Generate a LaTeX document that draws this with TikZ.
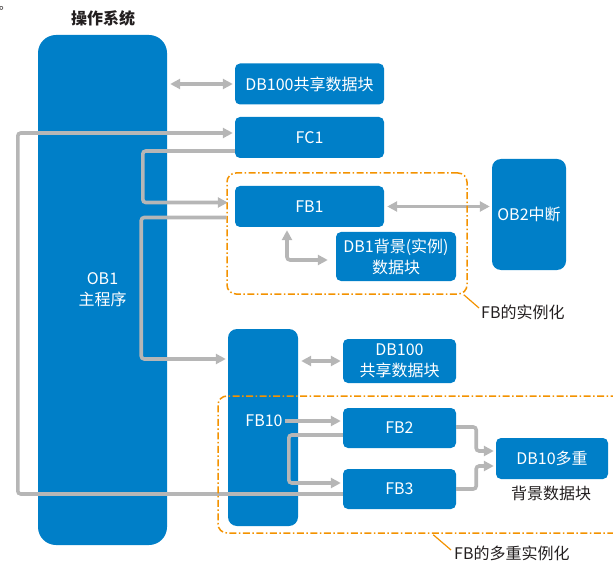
\documentclass[tikz,border=0pt]{standalone}
\usepackage{fontspec}
\setmainfont{Noto Sans CJK SC}
\usetikzlibrary{arrows.meta,calc,positioning}
\definecolor{plcblue}{RGB}{0,127,200}
\definecolor{linkgray}{RGB}{182,182,182}
\definecolor{groupor}{RGB}{243,146,0}
\definecolor{darktext}{RGB}{35,31,32}
\tikzset{
    block/.style={fill=plcblue, text=white, rounded corners=5pt, inner sep=0pt, align=center},
    call/.style={draw=linkgray, line width=3.6pt, rounded corners=3pt, -{Triangle[length=10pt,width=10pt]}, shorten >=2pt},
    share/.style={draw=linkgray, line width=3.6pt, rounded corners=3pt, {Triangle[length=10pt,width=10pt]}-{Triangle[length=10pt,width=10pt]}, shorten >=2pt, shorten <=3pt},
    group/.style={draw=groupor, line width=1.5pt, rounded corners=9pt, dash pattern=on 7pt off 2.5pt on 1.5pt off 2.5pt, inner sep=0pt},
    lead/.style={draw=groupor, line width=1.2pt},
    note/.style={text=darktext, inner sep=0pt}
}
\begin{document}
\begin{tikzpicture}[x=1pt, y=-1pt, font=\fontsize{16}{21}\selectfont]
    \clip (0, 0) rectangle (613, 564);
    \node[note, font=\fontsize{12}{12}\selectfont] (dot) at (5, 8) {。};
    \node[note, font=\fontsize{16}{16}\selectfont\bfseries] (title) at (103, 18) {操作系统};
    \node[block, rounded corners=18pt, minimum width=129pt, minimum height=510pt] (ob1) at (102.5, 290) {OB1\\主程序};
    \node[block, minimum width=149pt, minimum height=41pt] (db100a) at (309.5, 84) {DB100共享数据块};
    \node[block, minimum width=149pt, minimum height=41pt] (fc1) at (309.5, 137.5) {FC1};
    \node[block, minimum width=149pt, minimum height=41pt] (fb1) at (309.5, 206.5) {FB1};
    \node[block, minimum width=120pt, minimum height=49pt] (db1) at (396, 256.5) {DB1背景(实例)\\数据块};
    \node[block, rounded corners=9pt, minimum width=74pt, minimum height=111pt] (ob2) at (529, 214.5) {OB2中断};
    \node[block, rounded corners=9pt, minimum width=70pt, minimum height=197pt] (fb10) at (263, 427.5) {};
    \node[text=white, inner sep=2pt] (fbtext) at (264, 421) {FB10};
    \node[block, minimum width=113pt, minimum height=44pt] (db100b) at (399.5, 361) {DB100\\共享数据块};
    \node[block, minimum width=113pt, minimum height=40pt] (fb2) at (399.5, 428) {FB2};
    \node[block, minimum width=113pt, minimum height=40pt] (fb3) at (399.5, 489) {FB3};
    \node[block, minimum width=112pt, minimum height=41pt] (db10) at (552, 458.5) {DB10多重};
    \node[note] (bglabel) at (551, 493) {背景数据块};

    \draw[call] ([yshift=-5pt]fb3.west) -- ++(-325, 0) |- ([yshift=4.5pt]fc1.west);
    \draw[call, shorten >=7pt] ([yshift=-13.5pt]fc1.west) -- ++(-92, 0) |- ([yshift=4pt]fb1.west);
    \draw[share] (ob1.east |- db100a) -- (db100a.west);
    \draw[share] (fb1.east) -- (fb1.east -| ob2.west);
    \draw[share, shorten >=8pt] ($(fb1.south)+(-22.5, 0)$) |- ($(db1.west)+(0, 3.5)$);
    \draw[share] (fb10.east |- db100b) -- (db100b.west);
    \draw[call] (fbtext.east) -- (fbtext.east -| fb2.west);
    \draw[call] ($(fb2.west)+(0, 7)$) -- ++(-54, 0) |- ($(fb3.west)+(0, -6)$);
    \draw[call] ($(fb2.east)+(0, -1)$) -- ++(20, 0) |- ($(db10.west)+(0, -7.5)$);
    \draw[call] (fb3.east) -- ++(20, 0) |- ($(db10.west)+(0, 7.5)$);

    \node[group, minimum width=240pt, minimum height=121pt] (inst) at (347, 233.5) {};
    \draw[call] ($(fb1.west -| inst.west)+(0, 11)$) -- ++(-85, 0) |- ($(fb10.west)+(0, -68.5)$);
    \node[group, minimum width=422pt, minimum height=137pt] (multi) at (429, 464.5) {};

    \node[note, anchor=west] (note1) at (481, 312) {FB的实例化};
    \node[note, anchor=west] (note2) at (454, 553) {FB的多重实例化};
    \draw[lead] ($(inst.south east)+(-4, 0)$) -- ($(note1.west)+(-2, -4)$);
    \draw[lead] ($(multi.south west)+(216, 1)$) -- ($(note2.west)+(-3, -3)$);
\end{tikzpicture}
\end{document}
